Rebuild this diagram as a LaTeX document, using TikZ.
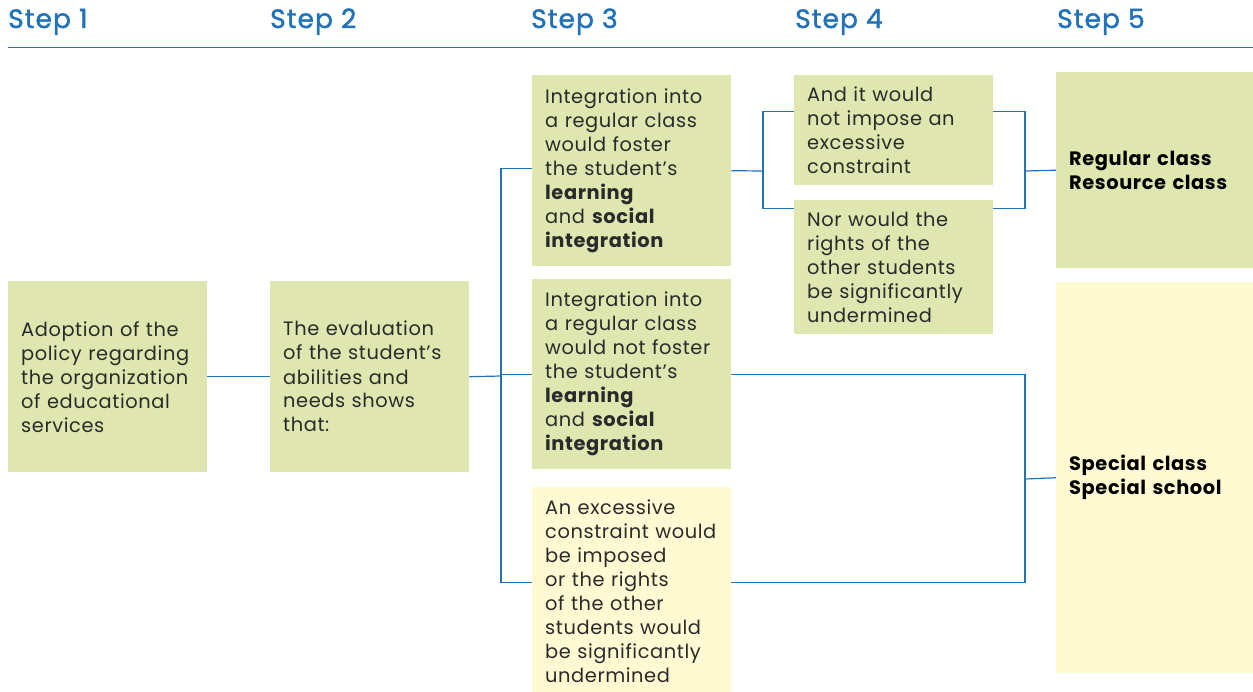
\documentclass[tikz,border=0pt]{standalone}
\usepackage{fontspec}
\setmainfont{Poppins}[LetterSpace=3]
\newfontfamily\headfont{Poppins}[LetterSpace=4, FakeBold=1.6]
\usepackage{xcolor}
\usetikzlibrary{calc}
\definecolor{stepblue}{HTML}{2272B9}
\definecolor{boxgreen}{HTML}{DFE6B0}
\definecolor{boxyellow}{HTML}{FFFAD2}
\definecolor{bodygray}{HTML}{2A2A2A}
\tikzset{
  box/.style={anchor=north west, minimum width=199pt, text width=173pt,
    inner xsep=13pt, inner ysep=0pt, align=left, text=bodygray,
    font=\fontsize{19.4}{24}\selectfont},
  greenbox/.style={box, fill=boxgreen},
  yellowbox/.style={box, fill=boxyellow},
  header/.style={anchor=base west, text=stepblue, inner sep=0pt,
    font=\headfont\fontsize{26.5}{28}\selectfont},
  link/.style={draw=stepblue, line width=1.2pt}
}
\begin{document}
\begin{tikzpicture}[x=1pt,y=-1pt]
  \useasboundingbox (0,0) rectangle (1253,691);

  % Headers
  \node[header] (h1) at (8,28) {Step 1};
  \node[header] (h2) at (270,28) {Step 2};
  \node[header] (h3) at (531,28) {Step 3};
  \node[header] (h4) at (795,28) {Step 4};
  \node[header] (h5) at (1057,28) {Step 5};
  \draw[stepblue, line width=0.9pt] (8,47) -- (1253,47);

  % Boxes
  \node[greenbox, minimum height=191pt] (s1) at (8,281)
    {Adoption of the\\policy regarding\\the organization\\of educational\\services};
  \node[greenbox, minimum height=191pt] (s2) at (270,281)
    {The evaluation\\of the student's\\abilities and\\needs shows\\that:};
  \node[greenbox, minimum height=191pt] (s3a) at (532,75)
    {Integration into\\a regular class\\would foster\\the student's\\\textbf{learning}\\and \textbf{social}\\\textbf{integration}};
  \node[greenbox, minimum height=190pt] (s3b) at (532,279)
    {Integration into\\a regular class\\would not foster\\the student's\\\textbf{learning}\\and \textbf{social}\\\textbf{integration}};
  \node[yellowbox, minimum height=208pt] (s3c) at (532,487)
    {An excessive\\constraint would\\be imposed\\or the rights\\of the other\\students would\\be significantly\\undermined};
  \node[greenbox, minimum height=110pt] (s4a) at (794,75)
    {And it would\\not impose an\\excessive\\constraint};
  \node[greenbox, minimum height=134pt] (s4b) at (794,200)
    {Nor would the\\rights of the\\other students\\be significantly\\undermined};
  \node[greenbox, minimum width=197pt, minimum height=196pt,
    font=\fontsize{19.4}{24}\selectfont\bfseries, text=black] (s5a) at (1056,72)
    {Regular class\\Resource class};
  \node[yellowbox, minimum width=197pt, minimum height=391pt,
    font=\fontsize{19.4}{24}\selectfont\bfseries, text=black] (s5b) at (1056,282)
    {Special class\\Special school};

  % Junctions
  \coordinate (j2) at (501,376);
  \coordinate (j3) at (763,171);
  \coordinate (j4) at (1025,171);
  \coordinate (j5) at (1025,479);

  % Connectors
  \draw[link] (s1.east) -- (s2.west);
  \draw[link] (s2.east) -- (j2);
  \draw[link] (j2) -- (s3b.west -| j2) -- (s3b.west);
  \draw[link] ([yshift=2.5pt]s3a.west) -| (j2) |- ([yshift=9pt]s3c.west);
  \draw[link] (s3a.east) -- (j3);
  \draw[link] ([yshift=19pt]s4a.west) -| (j3) |- ([yshift=59pt]s4b.west);
  \draw[link] ([yshift=19pt]s4a.east) -| (j4) |- ([yshift=59pt]s4b.east);
  \draw[link] (j4) -- (s5a.west);
  \draw[link] (s3b.east) -| (j5) |- ([yshift=9pt]s3c.east);
  \draw[link] (j5) -- (s5b.west);
\end{tikzpicture}
\end{document}
